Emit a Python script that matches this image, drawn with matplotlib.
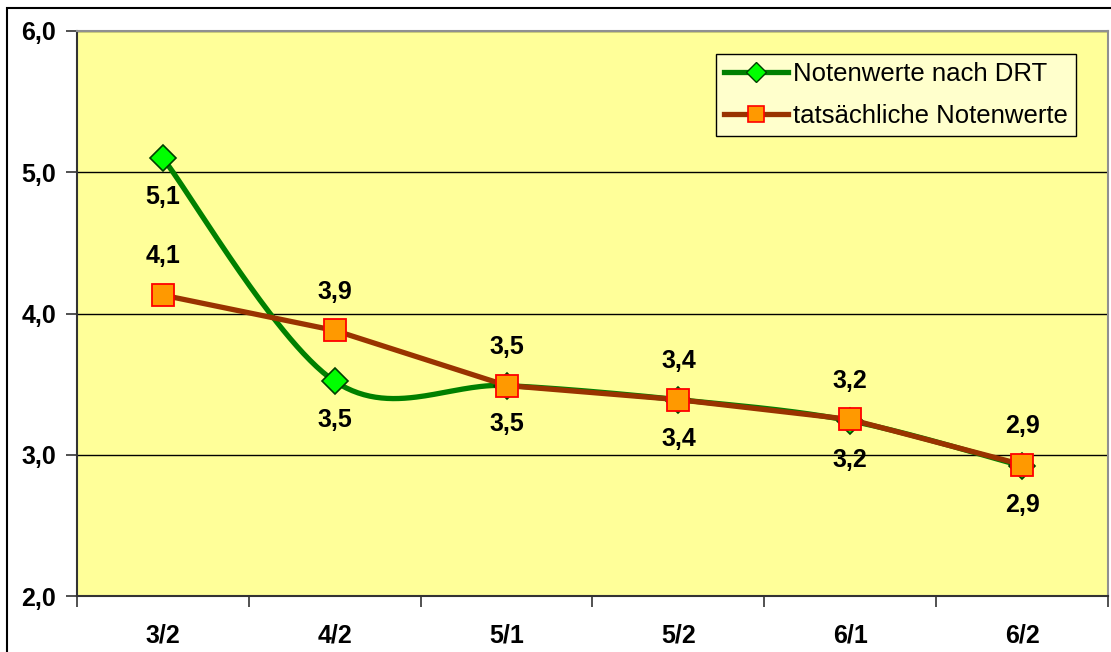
import numpy as np
import matplotlib.pyplot as plt
from matplotlib.patches import Rectangle

categories = ['3/2', '4/2', '5/1', '5/2', '6/1', '6/2']
drt_values = [5.10, 3.52, 3.49, 3.39, 3.24, 2.92]
actual_values = [4.13, 3.88, 3.49, 3.39, 3.25, 2.93]


def smooth_curve(x, y, n=60):
    # Bezier segments with Catmull-Rom style control points (spreadsheet "smoothed line")
    pts = np.column_stack([x, y]).astype(float)
    ext = np.vstack([pts[0], pts, pts[-1]])
    out = []
    for i in range(len(pts) - 1):
        p0, p1, p2, p3 = ext[i], ext[i + 1], ext[i + 2], ext[i + 3]
        c1 = p1 + (p2 - p0) / 6
        c2 = p2 - (p3 - p1) / 6
        t = np.linspace(0, 1, n)[:, None]
        seg = ((1 - t) ** 3 * p1 + 3 * (1 - t) ** 2 * t * c1
               + 3 * (1 - t) * t ** 2 * c2 + t ** 3 * p2)
        out.append(seg if i == 0 else seg[1:])
    out = np.vstack(out)
    return out[:, 0], out[:, 1]


def fmt(v):
    return f'{v:.1f}'.replace('.', ',')


plt.rcParams['font.family'] = ['Liberation Sans', 'DejaVu Sans']
FS = 18

fig = plt.figure(figsize=(11.11, 6.52), dpi=100)
ax = fig.add_axes([77 / 1111, 1 - 596 / 652, 1031 / 1111, 565 / 652])
ax.set_facecolor('#FFFF99')

x = np.arange(len(categories))

# green series (smoothed)
sx, sy = smooth_curve(x, drt_values)
ax.plot(sx, sy, color='#008000', lw=3.8, solid_capstyle='round', zorder=3)
ax.plot(x, drt_values, ls='', marker='D', ms=13, mfc='#00FF00', mec='#004000',
        mew=1.2, zorder=4)
green_handle = ax.plot([], [], color='#008000', lw=3.8, marker='D', ms=10,
                       mfc='#00FF00', mec='#004000', mew=1.0,
                       label='Notenwerte nach DRT')[0]

# orange series
ax.plot(x, actual_values, color='#993300', lw=3.8, marker='s', ms=16,
        mfc='#FF9900', mec='#FF0000', mew=1.3, zorder=5)
orange_handle = ax.plot([], [], color='#993300', lw=3.8, marker='s', ms=11,
                        mfc='#FF9900', mec='#FF0000', mew=1.2,
                        label='tatsächliche Notenwerte')[0]

for xi, v in zip(x, drt_values):
    ax.annotate(fmt(v), (xi, v), xytext=(0, -28), textcoords='offset points',
                ha='center', va='center', fontsize=FS, fontweight='bold')
for xi, v in zip(x, actual_values):
    ax.annotate(fmt(v), (xi, v), xytext=(0, 28), textcoords='offset points',
                ha='center', va='center', fontsize=FS, fontweight='bold')

ax.set_xlim(-0.5, len(categories) - 0.5)
ax.set_ylim(2.0, 6.0)
ax.set_yticks([2.0, 3.0, 4.0, 5.0, 6.0])
ax.set_yticklabels([fmt(v) for v in [2.0, 3.0, 4.0, 5.0, 6.0]])
ax.grid(axis='y', color='black', lw=1.0)
ax.set_axisbelow(True)

ax.set_xticks(np.arange(-0.5, len(categories)), labels=[])
ax.set_xticks(x, labels=categories, minor=True)
ax.tick_params(axis='x', which='major', length=8, width=1.2, color='#333333')
ax.tick_params(axis='x', which='minor', length=0, pad=20, labelsize=FS)
ax.tick_params(axis='y', length=8, width=1.2, color='#333333', pad=7,
               labelsize=FS)
for lab in ax.get_xticklabels(minor=True) + ax.get_yticklabels():
    lab.set_fontweight('bold')

for side in ['top', 'right']:
    ax.spines[side].set_color('#909090')
    ax.spines[side].set_linewidth(1.5)
for side in ['left', 'bottom']:
    ax.spines[side].set_color('#333333')
    ax.spines[side].set_linewidth(1.5)

leg = ax.legend(handles=[green_handle, orange_handle], loc='upper right',
                bbox_to_anchor=(0.969, 0.959), fontsize=18.5, frameon=True,
                fancybox=False, facecolor='#FFFFCC', edgecolor='black',
                framealpha=1, handlelength=2.5, handletextpad=0.2,
                borderpad=0.3, labelspacing=0.72, borderaxespad=0)
leg.get_frame().set_linewidth(1.0)
leg.set_zorder(10)

# chart frame
fig.patches.append(Rectangle((7 / 1111, -0.1), 1.2, 1.1 - 8 / 652,
                             transform=fig.transFigure, fill=False,
                             edgecolor='black', lw=1.5))

fig.savefig('out.png', dpi=100)
